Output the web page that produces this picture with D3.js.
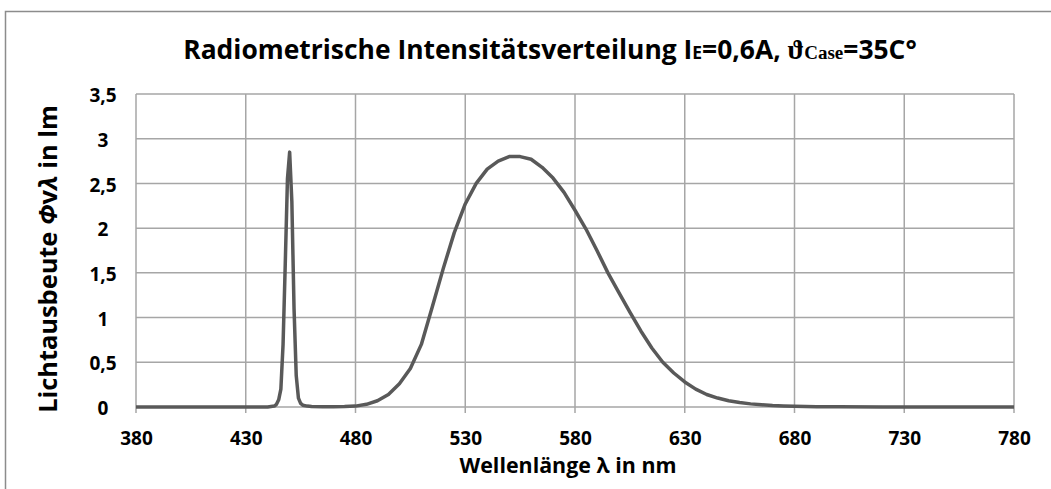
<!DOCTYPE html>
<html>
<head>
<meta charset="utf-8">
<script src="https://cdn.jsdelivr.net/npm/d3@7"></script>
<style>
  body { margin: 0; background: #fff; }
  text { font-family: "Open Sans", Lato, sans-serif; font-weight: bold; fill: #000; }
</style>
</head>
<body>
<div class="chart"></div>
<script>
// wavelength in nm, luminous flux in lm
let wavelengths = [380, 390, 400, 410, 420, 430, 440, 443, 444, 445, 446, 447, 448, 449, 450, 451, 452, 453, 454, 455, 456, 458, 460, 465, 470, 475,
  480, 485, 490, 495, 500, 505, 510, 515, 520, 525, 530, 535, 540, 545, 550, 555, 560, 565, 570, 575, 580, 585, 590, 595,
  600, 605, 610, 615, 620, 625, 630, 635, 640, 645, 650, 655, 660, 665, 670, 675, 680, 690, 700, 720, 740, 760, 780];
let flux = [0, 0, 0, 0, 0, 0, 0, 0.01, 0.03, 0.08, 0.2, 0.7, 1.6, 2.55, 2.85, 2.3, 1.1, 0.35, 0.1, 0.04, 0.02, 0.01, 0.005, 0.003, 0.003, 0.005,
  0.01, 0.03, 0.07, 0.14, 0.26, 0.43, 0.70, 1.12, 1.55, 1.95, 2.27, 2.50, 2.66, 2.75, 2.80, 2.80, 2.77, 2.68, 2.56, 2.40, 2.20, 1.99, 1.75, 1.50,
  1.28, 1.06, 0.85, 0.66, 0.50, 0.38, 0.28, 0.20, 0.14, 0.10, 0.07, 0.05, 0.035, 0.025, 0.017, 0.012, 0.008, 0.004, 0.002, 0.001, 0, 0, 0];

let xTicks = [380, 430, 480, 530, 580, 630, 680, 730, 780];
let yTicks = [0, 0.5, 1, 1.5, 2, 2.5, 3, 3.5];

let margin = {top: 94, right: 37, bottom: 82, left: 136};
let fullWidth = 1051;
let fullHeight = 489;
let width = fullWidth - margin.left - margin.right;
let height = fullHeight - margin.top - margin.bottom;

let root = d3.select('.chart')
  .append('svg')
    .attr('width', fullWidth)
    .attr('height', fullHeight);

// outer chart frame
root.append('rect')
  .attr('x', 5.5)
  .attr('y', 11.5)
  .attr('width', fullWidth)
  .attr('height', fullHeight)
  .style('fill', 'none')
  .style('stroke', '#8c8c8c')
  .style('stroke-width', 1.5);

let svg = root.append('g')
  .attr('transform', `translate(${margin.left}, ${margin.top})`);

let xScale = d3.scaleLinear()
  .domain([380, 780])
  .range([0, width]);

let yScale = d3.scaleLinear()
  .domain([0, 3.5])
  .range([height, 0]);

let comma = d => String(d).replace('.', ',');

// gridlines
svg.append('g')
  .selectAll('line')
  .data(yTicks)
  .enter().append('line')
    .attr('x1', 0)
    .attr('x2', width)
    .attr('y1', d => yScale(d))
    .attr('y2', d => yScale(d))
    .style('stroke', '#a6a6a6')
    .style('stroke-width', 1.5);

svg.append('g')
  .selectAll('line')
  .data(xTicks)
  .enter().append('line')
    .attr('x1', d => xScale(d))
    .attr('x2', d => xScale(d))
    .attr('y1', 0)
    .attr('y2', height + 6)
    .style('stroke', '#a6a6a6')
    .style('stroke-width', 1.5);

// tick labels
let xAxis = d3.axisBottom(xScale)
  .tickValues(xTicks)
  .tickSize(0)
  .tickPadding(38);
svg.append('g')
  .attr('transform', `translate(0, ${height})`)
  .call(xAxis)
  .call(g => g.select('.domain').remove())
  .selectAll('text')
    .style('font-size', '19px')
    .attr('dy', 0);

let yAxis = d3.axisLeft(yScale)
  .tickValues(yTicks)
  .tickFormat(comma)
  .tickSize(0)
  .tickPadding(0);
svg.append('g')
  .call(yAxis)
  .call(g => g.select('.domain').remove())
  .selectAll('text')
    .style('font-size', '19px')
    .attr('text-anchor', 'middle')
    .attr('x', -33)
    .attr('dy', '0.4em');

// spectrum
let points = wavelengths.map((w, i) => ({w: w, v: flux[i]}));
let line = d3.line()
  .x(d => xScale(d.w))
  .y(d => yScale(d.v));

svg.append('path')
  .datum(points)
  .attr('d', line)
  .style('fill', 'none')
  .style('stroke', '#595959')
  .style('stroke-width', 3.5)
  .style('stroke-linejoin', 'round');

// shrink or grow a text so it spans the given width
function fitWidth(sel, target) {
  let size = parseFloat(sel.style('font-size'));
  let w = sel.node().getComputedTextLength();
  sel.style('font-size', (size * target / w) + 'px');
}

// title
let title = root.append('text')
  .attr('x', 550)
  .attr('y', 59)
  .attr('text-anchor', 'middle')
  .style('font-size', '24px');
title.append('tspan').text('Radiometrische Intensitätsverteilung I');
title.append('tspan').style('font-size', '0.66em').text('E');
title.append('tspan').text('=0,6A, ');
title.append('tspan')
  .style('font-family', '"Liberation Serif", serif')
  .style('font-size', '1.05em')
  .text('ϑ');
title.append('tspan')
  .style('font-family', '"Liberation Serif", serif')
  .style('font-size', '0.72em')
  .text('Case');
title.append('tspan').text('=35C°');
fitWidth(title, 734);

// axis titles
let xLabel = root.append('text')
  .attr('x', 568)
  .attr('y', 473)
  .attr('text-anchor', 'middle')
  .style('font-size', '21px')
  .text('Wellenlänge λ in nm');
fitWidth(xLabel, 217);

let yLabel = root.append('text')
  .attr('transform', 'translate(57, 259) rotate(-90)')
  .attr('text-anchor', 'middle')
  .style('font-size', '24px');
yLabel.append('tspan').text('Lichtausbeute ');
yLabel.append('tspan').style('font-style', 'italic').text('Φ');
yLabel.append('tspan').text('v');
yLabel.append('tspan').style('font-style', 'italic').text('λ');
yLabel.append('tspan').text(' in  lm');
fitWidth(yLabel, 308);
</script>
</body>
</html>
